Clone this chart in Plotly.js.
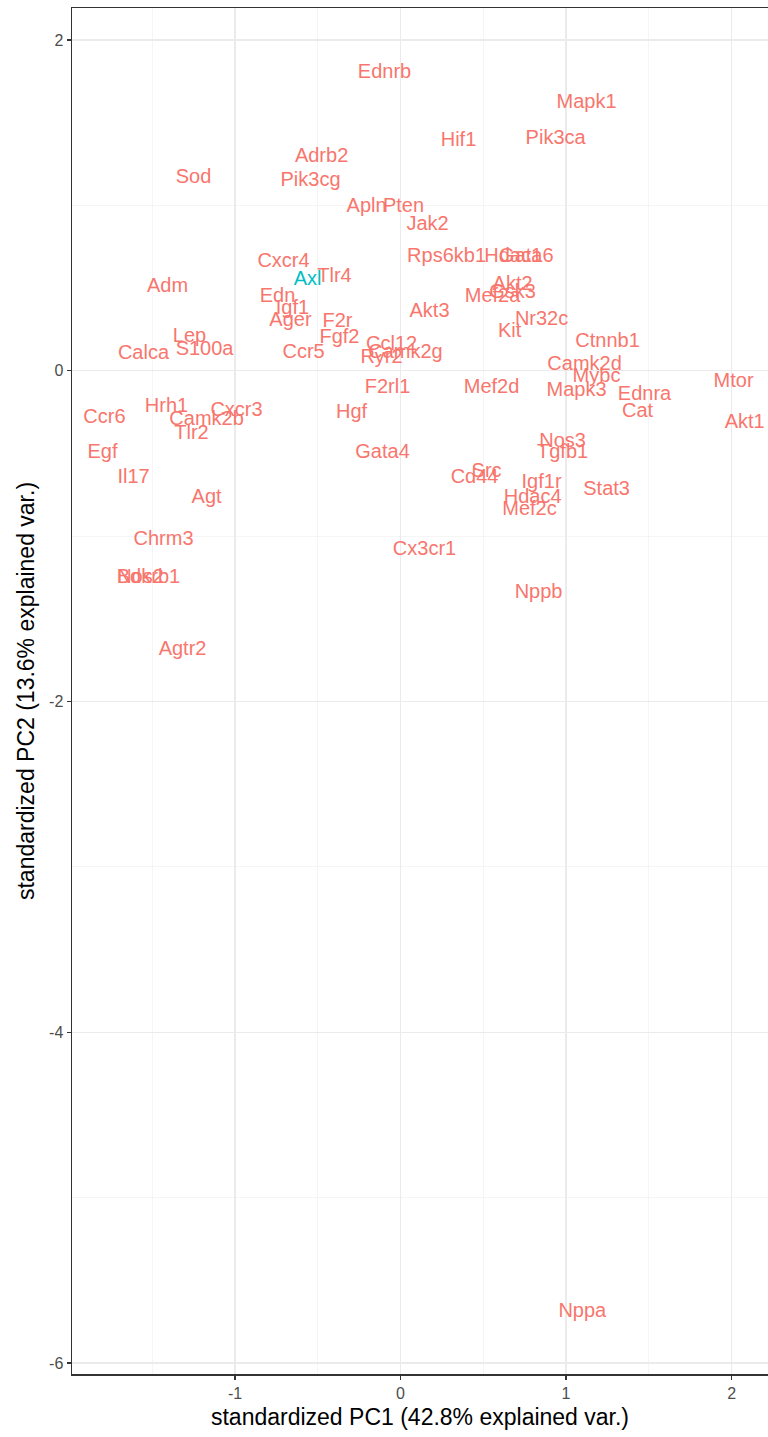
<!DOCTYPE html>
<html>
<head>
<meta charset="utf-8">
<script src="https://cdn.plot.ly/plotly-3.0.1.min.js"></script>
<style>
html,body{margin:0;padding:0;background:#fff;overflow:hidden;}
#chart{width:768px;height:1437px;}
</style>
</head>
<body>
<div id="chart"></div>
<script>
// Gene labels and their standardized PC scores
var genes = ["Ednrb","Mapk1","Hif1","Pik3ca","Adrb2","Sod","Pik3cg","Apln","Pten","Jak2",
  "Rps6kb1","Hdac1","Gata6","Cxcr4","Axl","Tlr4","Adm","Edn","Igf1","Ager",
  "F2r","Fgf2","Ccr5","Lep","S100a","Calca","Akt2","Mef2a","Gsk3","Akt3",
  "Nr32c","Kit","Ctnnb1","Ccl12","Camk2g","Ryr2","Camk2d","Mybc","Mtor","F2rl1",
  "Mef2d","Mapk3","Ednra","Cat","Akt1","Ccr6","Hrh1","Cxcr3","Camk2b","Tlr2",
  "Hgf","Egf","Gata4","Nos3","Tgfb1","Il17","Src","Cd44","Igf1r","Stat3",
  "Agt","Hdac4","Mef2c","Chrm3","Cx3cr1","Bdkrb1","Nos2","Nppb","Agtr2","Nppa"];
var pc1 = [-0.097,1.124,0.350,0.937,-0.477,-1.251,-0.544,-0.205,0.018,0.163,
  0.278,0.680,0.760,-0.707,-0.562,-0.399,-1.408,-0.743,-0.653,-0.665,
  -0.381,-0.369,-0.586,-1.275,-1.184,-1.553,0.677,0.556,0.677,0.175,
  0.852,0.659,1.251,-0.054,0.030,-0.115,1.112,1.184,2.012,-0.079,
  0.550,1.063,1.474,1.432,2.079,-1.789,-1.414,-0.991,-1.172,-1.263,
  -0.296,-1.801,-0.109,0.979,0.979,-1.613,0.520,0.447,0.852,1.245,
  -1.172,0.798,0.779,-1.432,0.145,-1.523,-1.571,0.834,-1.317,1.098];
var pc2 = [1.801,1.619,1.390,1.402,1.293,1.166,1.148,0.991,0.991,0.882,
  0.689,0.689,0.689,0.659,0.550,0.568,0.508,0.447,0.375,0.302,
  0.296,0.199,0.109,0.205,0.127,0.103,0.520,0.447,0.471,0.356,
  0.308,0.236,0.175,0.157,0.109,0.079,0.036,-0.036,-0.066,-0.103,
  -0.103,-0.121,-0.145,-0.248,-0.314,-0.284,-0.218,-0.242,-0.296,-0.381,
  -0.254,-0.495,-0.495,-0.429,-0.495,-0.647,-0.610,-0.647,-0.677,-0.719,
  -0.767,-0.767,-0.840,-1.021,-1.082,-1.251,-1.251,-1.341,-1.686,-5.690];
var groups = genes.map(function(g){ return g === "Axl" ? "Axl" : "other"; });
var groupColors = {other: "#F8766D", Axl: "#00BFC4"};
var xTickVals = [-1, 0, 1, 2];
var yTickVals = [-6, -4, -2, 0, 2];

var traces = ["other", "Axl"].map(function(grp){
  var idx = [];
  groups.forEach(function(g, i){ if (g === grp) idx.push(i); });
  return {
    type: "scatter",
    mode: "text",
    x: idx.map(function(i){ return pc1[i]; }),
    y: idx.map(function(i){ return pc2[i]; }),
    text: idx.map(function(i){ return genes[i]; }),
    textposition: "middle center",
    textfont: {family: "Liberation Sans, Arial, sans-serif", size: 20, color: groupColors[grp]},
    hoverinfo: "none",
    showlegend: false,
    cliponaxis: false
  };
});

var font = "Liberation Sans, Arial, sans-serif";
var layout = {
  width: 768, height: 1437,
  margin: {l: 72, r: 0, t: 8, b: 63},
  paper_bgcolor: "#ffffff",
  plot_bgcolor: "#ffffff",
  showlegend: false,
  font: {family: font},
  xaxis: {
    range: [-1.985, 2.22],
    tickvals: xTickVals,
    ticktext: xTickVals.map(String),
    ticks: "outside", ticklen: 4, tickwidth: 1.2, tickcolor: "#333333",
    tickfont: {family: font, size: 16, color: "#4D4D4D"},
    showgrid: true, gridcolor: "#EBEBEB", gridwidth: 1.2,
    minor: {dtick: 0.5, tick0: 0, showgrid: true, gridcolor: "#F2F2F2", gridwidth: 0.8, ticks: ""},
    zeroline: false,
    showline: true, mirror: true, linecolor: "#333333", linewidth: 1.5,
    title: {text: "standardized PC1 (42.8% explained var.)", font: {family: font, size: 23, color: "#000000"}, standoff: 8}
  },
  yaxis: {
    range: [-6.066, 2.193],
    tickvals: yTickVals,
    ticktext: yTickVals.map(String),
    ticks: "outside", ticklen: 4, tickwidth: 1.2, tickcolor: "#333333",
    tickfont: {family: font, size: 16, color: "#4D4D4D"},
    showgrid: true, gridcolor: "#EBEBEB", gridwidth: 1.2,
    minor: {dtick: 1, tick0: 0, showgrid: true, gridcolor: "#F2F2F2", gridwidth: 0.8, ticks: ""},
    zeroline: false,
    showline: true, mirror: false, linecolor: "#333333", linewidth: 1.5,
    title: {text: "standardized PC2 (13.6% explained var.)", font: {family: font, size: 23, color: "#000000"}, standoff: 8}
  }
};

Plotly.newPlot("chart", traces, layout, {displayModeBar: false, staticPlot: true});
</script>
</body>
</html>
